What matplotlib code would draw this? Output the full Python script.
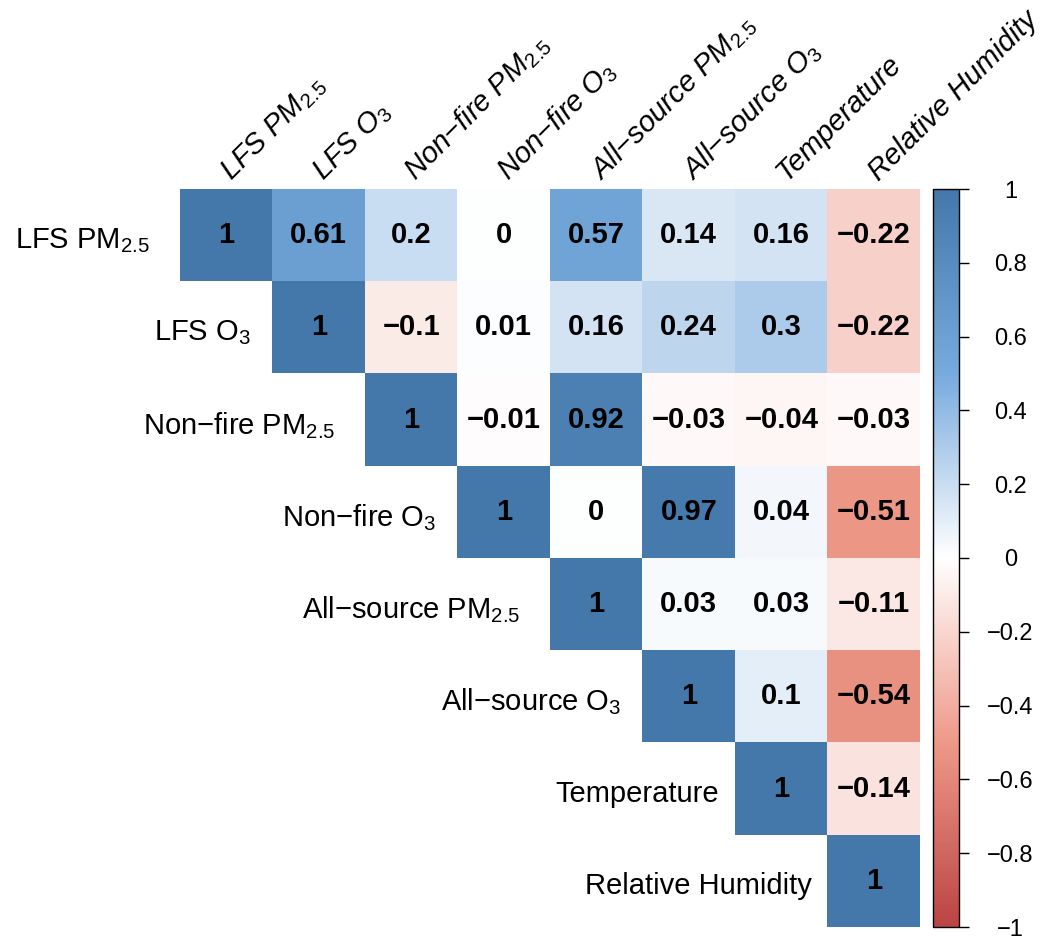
import numpy as np
import matplotlib
import matplotlib.pyplot as plt
from matplotlib.colors import LinearSegmentedColormap

plt.rcParams['font.family'] = ['Liberation Sans', 'DejaVu Sans']
plt.rcParams['mathtext.fontset'] = 'custom'
plt.rcParams['mathtext.rm'] = 'Liberation Sans'
plt.rcParams['mathtext.it'] = 'Liberation Sans:italic'

# variable names (row / column labels)
labels = [r'LFS PM$_{2.5}$', r'LFS O$_3$', r'Non$-$fire PM$_{2.5}$', r'Non$-$fire O$_3$',
          r'All$-$source PM$_{2.5}$', r'All$-$source O$_3$', 'Temperature', 'Relative Humidity']

# upper triangle of the correlation matrix, row by row (starting at the diagonal)
row0 = [1, 0.61, 0.2, 0, 0.57, 0.14, 0.16, -0.22]
row1 = [1, -0.1, 0.01, 0.16, 0.24, 0.3, -0.22]
row2 = [1, -0.01, 0.92, -0.03, -0.04, -0.03]
row3 = [1, 0, 0.97, 0.04, -0.51]
row4 = [1, 0.03, 0.03, -0.11]
row5 = [1, 0.1, -0.54]
row6 = [1, -0.14]
row7 = [1]
rows = [row0, row1, row2, row3, row4, row5, row6, row7]

n = len(labels)
mat = np.full((n, n), np.nan)
for i, r in enumerate(rows):
    mat[i, i:] = r
masked = np.ma.masked_invalid(mat)

cmap = LinearSegmentedColormap.from_list(
    'corr', ['#BB4444', '#EE9988', '#FFFFFF', '#77AADD', '#4477AA'])

fig = plt.figure(figsize=(10.5, 9.41), dpi=100)
ax = fig.add_axes([180 / 1050, 14 / 941, 740 / 1050, 738 / 941])
im = ax.imshow(masked, cmap=cmap, vmin=-1, vmax=1, aspect='auto',
               extent=(-0.5, n - 0.5, n - 0.5, -0.5), interpolation='nearest')
ax.set_xlim(-0.5, n - 0.5)
ax.set_ylim(n - 0.5, -0.5)
ax.axis('off')

def fmt(v):
    return f'{v:g}'.replace('-', '\u2212')

for i, r in enumerate(rows):
    for k, v in enumerate(r):
        j = i + k
        ax.text(j, i, fmt(v), ha='center', va='center', fontsize=21,
                fontweight='bold', color='black')

# row labels beside the diagonal (subscripted labels sit a little further out)
for i, lab in enumerate(labels):
    gap = 0.32 if '2.5' in lab else (0.23 if '_3' in lab else 0.17)
    ax.text(i - 0.5 - gap, i + 0.06, lab, ha='right', va='center', fontsize=21)

# column labels on top, rotated
for j, lab in enumerate(labels):
    ax.text(j + 0.1, -0.53, lab, ha='left', va='bottom', rotation=45,
            rotation_mode='anchor', fontsize=21, style='italic', clip_on=False)

cax = fig.add_axes([933 / 1050, 14 / 941, 26 / 1050, 738 / 941])
cb = fig.colorbar(im, cax=cax)
ticks = np.round(np.arange(-1, 1.01, 0.2), 1)
cb.set_ticks(ticks)
cb.set_ticklabels([fmt(t if abs(t) > 1e-9 else 0) for t in ticks])
cb.ax.tick_params(labelsize=17, length=7, width=1, direction='out', pad=30)
for t in cb.ax.get_yticklabels():
    t.set_horizontalalignment('center')
cb.outline.set_linewidth(1)

fig.savefig('out.png', dpi=100)
